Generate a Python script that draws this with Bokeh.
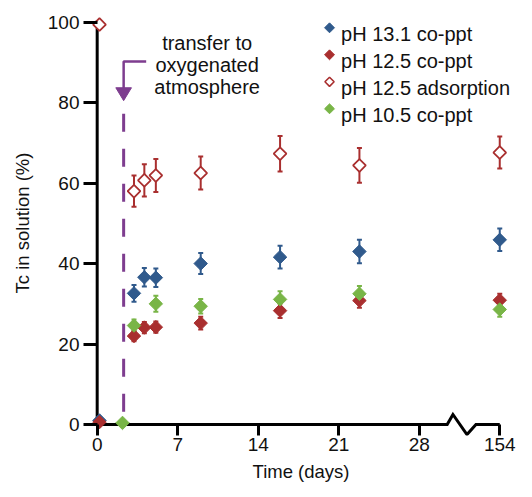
import numpy as np
from bokeh.plotting import figure
from bokeh.models import ColumnDataSource, Whisker, TeeHead, Label, FixedTicker
from bokeh.embed import file_html
from bokeh.resources import INLINE

# ---------------- data ----------------
x_tick_days = [0, 7, 14, 21, 28, 154]
y_ticks = [0, 20, 40, 60, 80, 100]
last_linear_day = 28
break_pos = 35          # axis position where day 154 is drawn (after the axis break)
transfer_day = 2.3

series_names = ["pH 13.1 co-ppt", "pH 12.5 co-ppt", "pH 12.5 adsorption", "pH 10.5 co-ppt"]

hi_days = [0.2, 3.2, 4.1, 5.1, 9.0, 15.9, 22.8, 154]
hi_vals = [1.0, 32.6, 36.6, 36.5, 40.0, 41.6, 43.0, 45.9]
hi_err = [0.0, 2.1, 2.3, 2.3, 2.6, 2.8, 2.9, 2.8]

mid_days = [0.2, 3.2, 4.1, 5.1, 9.0, 15.9, 22.8, 154]
mid_vals = [0.6, 22.0, 24.1, 24.2, 25.2, 28.3, 30.8, 30.9]
mid_err = [0.0, 1.3, 1.4, 1.4, 1.6, 1.8, 1.8, 1.6]

ads_days = [0.2, 3.2, 4.1, 5.1, 9.0, 15.9, 22.8, 154]
ads_vals = [99.4, 58.0, 60.7, 61.9, 62.5, 67.3, 64.4, 67.6]
ads_err = [0.0, 3.9, 4.0, 4.1, 4.1, 4.4, 4.3, 4.0]

low_days = [2.2, 3.2, 5.1, 9.0, 15.9, 22.8, 154]
low_vals = [0.4, 24.6, 30.0, 29.4, 31.1, 32.5, 28.6]
low_err = [0.0, 1.5, 2.0, 1.8, 2.0, 1.9, 1.8]

# ---------------- style ----------------
FONT = "Liberation Sans"
BLUE = "#305a8c"
RED = "#a92f2f"
GREEN = "#79b547"
PURPLE = "#7e3d8f"
TXT = "#111111"


def axis_pos(days):
    return [d if d <= last_linear_day else break_pos for d in days]


p = figure(width=524, height=489, output_backend="svg", toolbar_location=None,
           x_range=(-1.19, 36.63), y_range=(-2.73, 102.9),
           min_border_left=83, min_border_right=6, min_border_top=10,
           min_border_bottom=54)
p.outline_line_color = None
p.grid.grid_line_color = None

# axes: ticks drawn inward from the frame edge up to the drawn axis line
for ax in (p.xaxis, p.yaxis):
    ax.axis_line_color = None
    ax.major_tick_out = 0
    ax.minor_tick_in = 0
    ax.minor_tick_out = 0
    ax.major_tick_line_width = 3
    ax.major_tick_line_color = "black"
    ax.major_label_text_font = FONT
    ax.major_label_text_font_size = "19px"
    ax.major_label_text_color = TXT
    ax.axis_label_text_font = FONT
    ax.axis_label_text_font_size = "18.5px"
    ax.axis_label_text_font_style = "normal"
    ax.axis_label_text_color = TXT

p.yaxis.ticker = FixedTicker(ticks=y_ticks)
p.yaxis.major_tick_in = 14
p.yaxis.major_label_standoff = 4
p.yaxis.axis_label = "Tc in solution (%)"
p.yaxis.axis_label_standoff = 12

p.xaxis.ticker = FixedTicker(ticks=axis_pos(x_tick_days))
p.xaxis.major_label_overrides = {pos: str(d) for pos, d in zip(axis_pos(x_tick_days), x_tick_days)}
p.xaxis.major_tick_in = 11
p.xaxis.major_label_standoff = 2
p.xaxis.axis_label = "Time (days)"
p.xaxis.axis_label_standoff = 7

# axis lines with the break zig-zag
bx = 30.43
axis_x = [0, 0, bx, bx + 0.5, bx + 1.72, bx + 2.5, break_pos]
axis_y = [100.4, 0, 0, 2.5, -2.5, 0, 0]
p.line(axis_x, axis_y, line_color="black", line_width=3, line_join="miter")

# transfer annotation
p.line([transfer_day, transfer_day], [80.5, 0], line_color=PURPLE, line_width=3,
       line_dash="18 17", line_dash_offset=22)
p.line([transfer_day + 1.96, transfer_day, transfer_day], [90.2, 90.2, 83.6],
       line_color=PURPLE, line_width=2.5)
p.patch([transfer_day - 0.68, transfer_day + 0.68, transfer_day], [83.7, 83.7, 80.5],
        fill_color=PURPLE, line_color=PURPLE)
for txt, yy in zip(["transfer to", "oxygenated", "atmosphere"], [94.9, 89.4, 83.9]):
    p.add_layout(Label(x=9.56, y=yy, text=txt, text_align="center",
                       text_baseline="alphabetic", text_font=FONT,
                       text_font_size="20px", text_color=TXT))


def add_series(days, vals, errs, color, fill, size, lw):
    xs = axis_pos(days)
    src = ColumnDataSource(dict(x=xs, y=vals))
    ex = [x for x, e in zip(xs, errs) if e > 0]
    ey = [v for v, e in zip(vals, errs) if e > 0]
    ee = [e for e in errs if e > 0]
    esrc = ColumnDataSource(dict(x=ex, upper=[a + b for a, b in zip(ey, ee)],
                                 lower=[a - b for a, b in zip(ey, ee)]))
    w = Whisker(base="x", upper="upper", lower="lower", source=esrc,
                line_color=color, line_width=2, level="underlay",
                upper_head=TeeHead(size=5, line_color=color, line_width=2),
                lower_head=TeeHead(size=5, line_color=color, line_width=2))
    p.add_layout(w)
    p.scatter("x", "y", source=src, marker="square", angle=np.pi / 4, size=size,
              fill_color=fill, line_color=color, line_width=lw)


add_series(hi_days, hi_vals, hi_err, BLUE, BLUE, 9.5, 1)
add_series(mid_days, mid_vals, mid_err, RED, RED, 9.5, 1)
add_series(low_days, low_vals, low_err, GREEN, GREEN, 9.5, 1)
add_series(ads_days, ads_vals, ads_err, RED, "white", 9, 1.8)

# legend (diamond keys drawn as rotated squares)
leg_x = 20.2
leg_text_x = 21.2
leg_y0 = 98.6
leg_dy = 6.71
leg_colors = [BLUE, RED, RED, GREEN]
leg_fills = [BLUE, RED, "white", GREEN]
leg_sizes = [7, 7, 6.5, 7]
leg_lw = [1, 1, 1.6, 1]
for i, name in enumerate(series_names):
    yy = leg_y0 - i * leg_dy
    p.scatter([leg_x], [yy], marker="square", angle=np.pi / 4, size=leg_sizes[i],
              fill_color=leg_fills[i], line_color=leg_colors[i], line_width=leg_lw[i])
    p.add_layout(Label(x=leg_text_x, y=yy - 1.6, text=name, text_align="left",
                       text_baseline="alphabetic", text_font=FONT,
                       text_font_size="20px", text_color=TXT))

open("out.html", "w").write(file_html(p, INLINE))
